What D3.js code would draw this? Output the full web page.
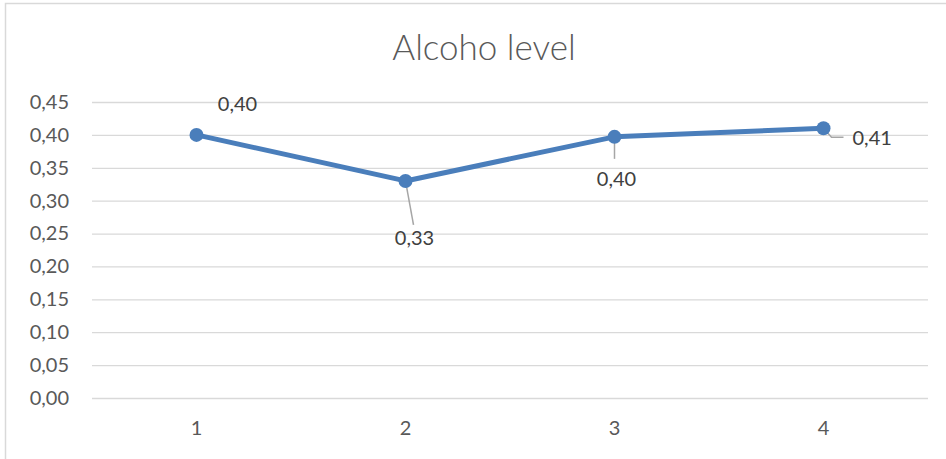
<!DOCTYPE html>
<html>
<head>
<meta charset="utf-8">
<script src="https://cdn.jsdelivr.net/npm/d3@7"></script>
<style>
  html, body { margin: 0; padding: 0; background: #fff; }
  svg { display: block; }
  text { font-family: Lato, "Open Sans", sans-serif; }
</style>
</head>
<body>
<svg id="chart" width="946" height="459"></svg>
<script>
// Alcohol level per sample
const categories = ["1", "2", "3", "4"];
const values = [0.40, 0.33, 0.397, 0.41];
const valueLabels = ["0,40", "0,33", "0,40", "0,41"];
const yTicks = [0, 0.05, 0.10, 0.15, 0.20, 0.25, 0.30, 0.35, 0.40, 0.45];

const svg = d3.select("#chart");
const W = 946, H = 459;
const plot = { left: 92, right: 928, top: 102, bottom: 398 };

// chart frame (left and top edges visible)
svg.append("path")
  .attr("d", `M5.5,${H} V3.5 H${W}`)
  .attr("fill", "none")
  .attr("stroke", "#d9d9d9")
  .attr("stroke-width", 1.5);

svg.append("text")
  .attr("x", 484).attr("y", 60)
  .attr("text-anchor", "middle")
  .attr("font-size", 35)
  .attr("font-weight", 300)
  .attr("fill", "#595959")
  .text("Alcoho level");

const x = d3.scaleBand().domain(categories).range([plot.left, plot.right]);
const y = d3.scaleLinear().domain([0, 0.45]).range([plot.bottom, plot.top]);
const fmt = v => d3.format(".2f")(v).replace(".", ",");

// gridlines + y labels
const yAxis = d3.axisLeft(y).tickValues(yTicks).tickFormat(fmt)
  .tickSize(-(plot.right - plot.left)).tickPadding(23);
const gy = svg.append("g").attr("transform", `translate(${plot.left},0)`).call(yAxis);
gy.select(".domain").remove();
gy.selectAll(".tick line").attr("stroke", "#d9d9d9").attr("stroke-width", 1.3);
gy.selectAll(".tick text").attr("font-size", 20).attr("fill", "#595959")
  .style("font-family", "Lato, 'Open Sans', sans-serif");

// x labels
const xAxis = d3.axisBottom(x).tickSize(0).tickPadding(23);
const gx = svg.append("g").attr("transform", `translate(0,${plot.bottom})`).call(xAxis);
gx.select(".domain").remove();
gx.selectAll(".tick text").attr("font-size", 20).attr("fill", "#595959")
  .style("font-family", "Lato, 'Open Sans', sans-serif");

const cx = (d, i) => x(categories[i]) + x.bandwidth() / 2;

// series line
svg.append("path")
  .datum(values)
  .attr("fill", "none")
  .attr("stroke", "#4a7ebb")
  .attr("stroke-width", 5)
  .attr("stroke-linejoin", "round")
  .attr("d", d3.line().x(cx).y(d => y(d)));

// data label offsets and leader lines
const labelPos = [
  { dx: 41, dy: -29, anchor: "middle", leader: null },
  { dx: 9, dy: 59, anchor: "middle", leader: [[0, 0], [8, 44]] },
  { dx: 2, dy: 44, anchor: "middle", leader: [[0, 0], [0, 22]] },
  { dx: 29, dy: 12, anchor: "start", leader: [[0, 0], [8, 9], [20, 9]] }
];

values.forEach((v, i) => {
  const px = cx(v, i), py = y(v);
  const L = labelPos[i];
  if (L.leader) {
    svg.append("path")
      .attr("d", d3.line()(L.leader.map(p => [px + p[0], py + p[1]])))
      .attr("fill", "none")
      .attr("stroke", "#a6a6a6")
      .attr("stroke-width", 1.5);
  }
});

svg.selectAll("circle.pt").data(values).join("circle")
  .attr("class", "pt")
  .attr("cx", cx)
  .attr("cy", d => y(d))
  .attr("r", 7)
  .attr("fill", "#4a7ebb");

values.forEach((v, i) => {
  const px = cx(v, i), py = y(v);
  const L = labelPos[i];
  svg.append("text")
    .attr("x", px + L.dx).attr("y", py + L.dy)
    .attr("text-anchor", L.anchor)
    .attr("dominant-baseline", "middle")
    .attr("font-size", 20)
    .attr("fill", "#404040")
    .text(valueLabels[i]);
});
</script>
</body>
</html>
